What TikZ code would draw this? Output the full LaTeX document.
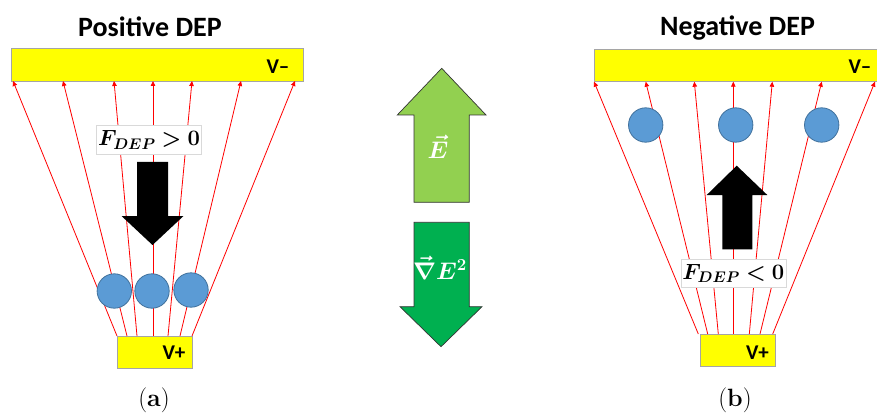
\RequirePackage{fix-cm}
\documentclass[tikz,border=0pt]{standalone}
\usepackage{amsmath,amssymb,bm}
\usepackage{fontspec}
\newfontfamily\carlito{Carlito}
\usetikzlibrary{arrows.meta}
\definecolor{elyellow}{HTML}{FFFF00}
\definecolor{elborder}{HTML}{A5A5A5}
\definecolor{ballfill}{HTML}{5B9BD5}
\definecolor{ballborder}{HTML}{41719C}
\definecolor{lightgreen}{HTML}{92D050}
\definecolor{darkgreen}{HTML}{00B050}
\definecolor{fieldred}{HTML}{FF0000}
\tikzset{
  electrode/.style={draw=elborder, fill=elyellow, line width=0.8pt},
  fieldline/.style={draw=fieldred, line width=0.8pt, -{Triangle[length=5pt,width=4.5pt]}},
  ball/.style={circle, draw=ballborder, fill=ballfill, line width=0.8pt, minimum size=34.4pt, inner sep=0pt},
  forcebox/.style={draw=black!15, fill=white, line width=0.6pt, inner sep=1pt, minimum width=105pt, minimum height=28.5pt, font=\fontsize{22}{24}\selectfont},
  blockarrow/.style={fill=black},
  greenarrow/.style={draw=black!80, line width=0.7pt},
  title/.style={font=\carlito\bfseries\fontsize{28}{32}\selectfont},
  vlabel/.style={font=\carlito\bfseries\fontsize{21}{24}\selectfont},
  caption/.style={font=\fontsize{25}{28}\selectfont},
  veclabel/.style={text=white, inner sep=0pt, font=\fontsize{24}{28}\selectfont}
}
\begin{document}
\begin{tikzpicture}[x=1pt,y=-1pt]
\useasboundingbox (0,0) rectangle (877,414);

% ---------------- Panel (a) ----------------
\node[title] (titleA) at (150,27) {Positive DEP};
\path[electrode] (11.7,48.5) rectangle (303,81);
\node[vlabel] (vminusA) at (278,67) {V\textendash};
\path[electrode] (117,336) rectangle (192,368);
\node[vlabel] (vplusA) at (174,353) {V+};

\foreach \i/\tx/\bx in {1/13/117, 2/63/127, 3/114/137, 4/153/153, 5/192/168, 6/241/180, 7/295/192}{
  \coordinate (aT\i) at (\tx,81);
  \coordinate (aB\i) at (\bx,336);
}
\foreach \i in {1,...,7}{ \draw[fieldline] (aB\i) -- (aT\i); }

\node[ball] (a1) at (114.3,291) {};
\node[ball] (a2) at (152,291) {};
\node[ball] (a3) at (191,290) {};

\fill[blockarrow] (137,162) -- (168,162) -- (168,216) -- (183.5,216) -- (152.5,245)
  -- (121.5,216) -- (137,216) -- cycle;
\node[forcebox] (fA) at (149,140) {$\boldsymbol{F_{DEP}>0}$};

\node[caption] (capA) at (154,400) {(\textbf{a})};

% ---------------- Center arrows ----------------
\path[greenarrow, fill=lightgreen] (441.7,68.3) -- (486,115) -- (469.3,115) -- (469.3,202.3)
  -- (414,202.3) -- (414,115) -- (397.3,115) -- cycle;
\node[veclabel] (eLabel) at (438,147) {$\boldsymbol{\vec{E}}$};
\path[greenarrow, fill=darkgreen] (414,222.3) -- (469.3,222.3) -- (469.3,306.7) -- (482,306.7)
  -- (441,346.7) -- (400,306.7) -- (414,306.7) -- cycle;
\node[veclabel] (gLabel) at (440,268) {$\boldsymbol{\vec{\nabla}E^{2}}$};

% ---------------- Panel (b) ----------------
\node[title] (titleB) at (737.5,28) {Negative DEP};
\path[electrode] (594.3,49.3) rectangle (880,81.7);
\node[vlabel] (vminusB) at (860,67) {V\textendash};
\path[electrode] (700,334) rectangle (775,366);
\node[vlabel] (vplusB) at (757.5,353) {V+};

\foreach \i/\tx/\bx in {1/594/698.3, 2/645.7/707.7, 3/694.3/718.3, 4/733.3/733.3, 5/772.3/749.3, 6/821.7/760, 7/875/772.7}{
  \coordinate (bT\i) at (\tx,81.7);
  \coordinate (bB\i) at (\bx,334);
}
\foreach \i in {1,...,7}{ \draw[fieldline] (bB\i) -- (bT\i); }

\node[ball] (b1) at (645.7,125) {};
\node[ball] (b2) at (735.7,125) {};
\node[ball] (b3) at (821.7,125) {};

\fill[blockarrow] (736.7,165.7) -- (767.3,195) -- (752.3,195) -- (752.3,249.3)
  -- (722.3,249.3) -- (722.3,195) -- (706.7,195) -- cycle;
\node[forcebox] (fB) at (733.3,273.5) {$\boldsymbol{F_{DEP}<0}$};

\node[caption] (capB) at (735,400) {(\textbf{b})};
\end{tikzpicture}
\end{document}
